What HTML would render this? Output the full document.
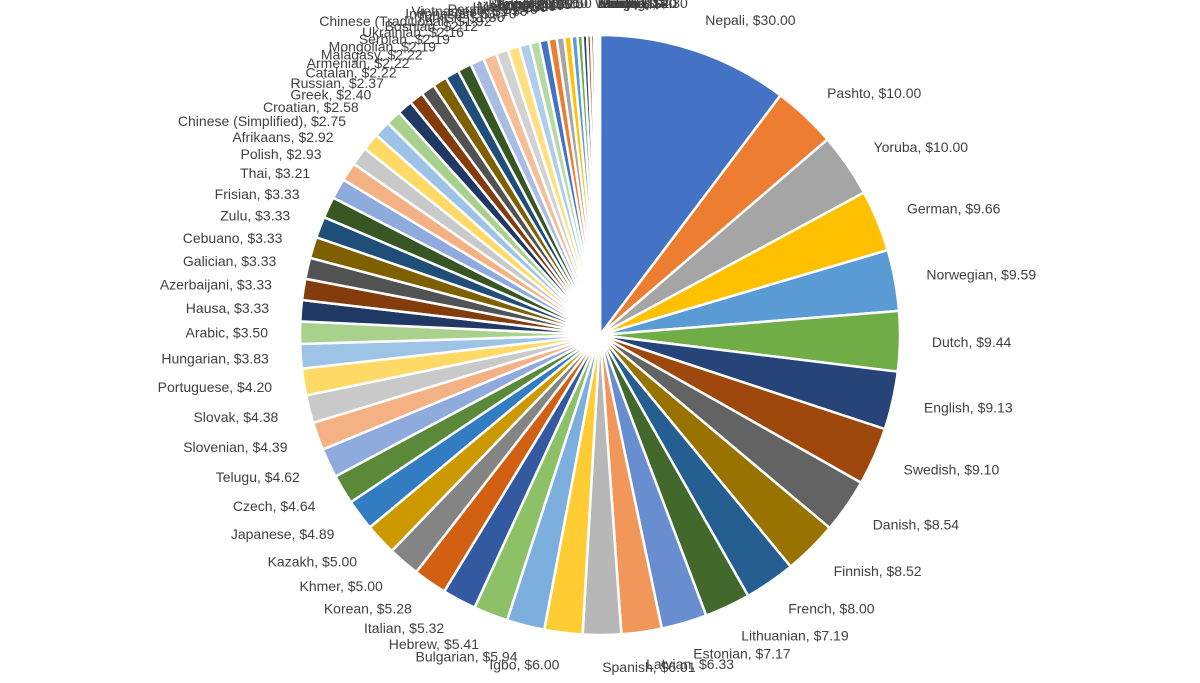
<!DOCTYPE html>
<html><head><meta charset="utf-8"><style>
html,body{margin:0;padding:0;background:#fff;width:1200px;height:683px;overflow:hidden}
svg text{font-family:"Liberation Sans",sans-serif;font-size:14px;fill:#404040}
</style></head><body>
<svg id="s" width="1200" height="683" xmlns="http://www.w3.org/2000/svg"></svg>
<script>
var d=[["Nepali",30],["Pashto",10],["Yoruba",10],["German",9.66],["Norwegian",9.59],["Dutch",9.44],["English",9.13],["Swedish",9.10],["Danish",8.54],["Finnish",8.52],["French",8.00],["Lithuanian",7.19],["Estonian",7.17],["Latvian",6.33],["Spanish",6.01],["Igbo",6.00],["Bulgarian",5.94],["Hebrew",5.41],["Italian",5.32],["Korean",5.28],["Khmer",5.00],["Kazakh",5.00],["Japanese",4.89],["Czech",4.64],["Telugu",4.62],["Slovenian",4.39],["Slovak",4.38],["Portuguese",4.20],["Hungarian",3.83],["Arabic",3.50],["Hausa",3.33],["Azerbaijani",3.33],["Galician",3.33],["Cebuano",3.33],["Zulu",3.33],["Frisian",3.33],["Thai",3.21],["Polish",2.93],["Afrikaans",2.92],["Chinese (Simplified)",2.75],["Croatian",2.58],["Greek",2.40],["Russian",2.37],["Catalan",2.22],["Armenian",2.22],["Malagasy",2.22],["Mongolian",2.19],["Serbian",2.19],["Ukrainian",2.16],["Bosnian",2.12],["Chinese (Traditional)",1.92],["Turkish",1.86],["Indonesian",1.7],["Vietnamese",1.5],["Persian",1.4],["Hindi",1.3],["Malay",1.2],["Urdu",1.1],["Tamil",0.95],["Bengali",0.8],["Swahili",0.7],["Latin",0.6],["Irish",0.5],["Welsh",0.4],["Basque",0.3],["Maori",0.2],["Samoan",0],["Tongan",0],["Hmong",0],["Sindhi",0],["Lao",0]];
var c=["#4472C4","#ED7D31","#A5A5A5","#FFC000","#5B9BD5","#70AD47","#264478","#9E480E","#636363","#997300","#255E91","#43682B","#698ED0","#F1975A","#B7B7B7","#FFCD33","#7CAFDD","#8CC168","#335AA1","#D26012","#848484","#CC9A00","#327DC2","#5A8A39","#8FAADC","#F4B183","#C9C9C9","#FFD966","#9DC3E6","#A9D18E","#203864","#843C0C","#525252","#7F6000","#1F4E79","#375623",
"#8FAADC","#F4B183","#C9C9C9","#FFD966","#9DC3E6","#A9D18E","#203864","#843C0C","#525252","#7F6000","#1F4E79","#375623","#A9BCE3","#F6BE97","#D2D2D2","#FFDF80","#B0CEEA","#B8D9A4","#4472C4","#ED7D31","#A5A5A5","#FFC000","#5B9BD5","#70AD47","#264478","#9E480E","#636363","#997300","#255E91","#43682B","#698ED0","#F1975A","#B7B7B7","#FFCD33","#7CAFDD"];
var t=0;d.forEach(function(x){t+=x[1]});
var cx=600,cy=335,R=300,a=0,h="",L="";
function pt(r,an){return [cx+r*Math.sin(an),cy-r*Math.cos(an)];}
d.forEach(function(x,i){
 var s=x[1]/t*2*Math.PI,b=a+s;
 if(s>0){var p=pt(R,a),q=pt(R,b);
 h+='<path d="M'+cx+','+cy+' L'+p[0].toFixed(2)+','+p[1].toFixed(2)+' A'+R+','+R+' 0 '+(s>Math.PI?1:0)+' 1 '+q[0].toFixed(2)+','+q[1].toFixed(2)+' Z" fill="'+c[i%c.length]+'" stroke="#fff" stroke-width="2.5"/>';}
 var m=a+s/2,l=pt(332,m),v=x[1]==0?"$-":"$"+x[1].toFixed(2);
 var anc=m<Math.PI?"start":"end";
 if(m>=Math.PI&&m>2*Math.PI-0.02)anc="start";
 L+='<text x="'+l[0].toFixed(1)+'" y="'+(l[1]+5).toFixed(1)+'" text-anchor="'+anc+'">'+x[0]+',  '+v+'</text>';
 a=b;});
document.getElementById("s").innerHTML=h+L;
</script>
</body></html>
